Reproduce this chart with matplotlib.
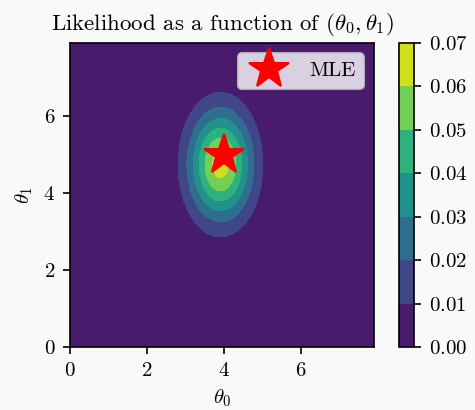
import numpy as np
import matplotlib
matplotlib.use("Agg")
import matplotlib.pyplot as plt

plt.rcParams['font.family'] = 'serif'
plt.rcParams['font.serif'] = ['cmr10']
plt.rcParams['mathtext.fontset'] = 'cm'
plt.rcParams['axes.formatter.use_mathtext'] = True
plt.rcParams['font.size'] = 10

# grid of parameter values
theta0 = np.arange(0, 8, 0.1)
theta1 = np.arange(0, 8, 0.1)

# likelihood surface parameters
peak = 0.064
center0, center1 = 3.91, 4.74
spread0, spread1 = 0.57, 0.975

mle = (4.0, 5.0)
levels = [0.00, 0.01, 0.02, 0.03, 0.04, 0.05, 0.06, 0.07]

T0, T1 = np.meshgrid(theta0, theta1)
L = peak * np.exp(-0.5 * (((T0 - center0) / spread0) ** 2 + ((T1 - center1) / spread1) ** 2))

fig = plt.figure(figsize=(475 / 150, 410 / 150), dpi=150, facecolor='#f9f9f9')
ax = fig.add_axes([70 / 475, 1 - 347 / 410, 304 / 475, 304 / 410])
cax = fig.add_axes([399 / 475, 1 - 347 / 410, 15 / 475, 304 / 410])

cs = ax.contourf(T0, T1, L, levels=levels, cmap='viridis')
ax.plot([mle[0]], [mle[1]], '*', color='red', markersize=20, label='MLE', linestyle='none')
ax.set_xticks([0, 2, 4, 6])
ax.set_yticks([0, 2, 4, 6])
ax.set_xlabel(r'$\theta_0$')
ax.set_ylabel(r'$\theta_1$')
ax.set_title(r'Likelihood as a function of $(\theta_0, \theta_1)$', fontsize=11)
ax.legend(loc='upper right', handlelength=2.2)
cb = fig.colorbar(cs, cax=cax)
cb.set_ticks(levels)

fig.savefig('out.png', dpi=150, facecolor=fig.get_facecolor())
